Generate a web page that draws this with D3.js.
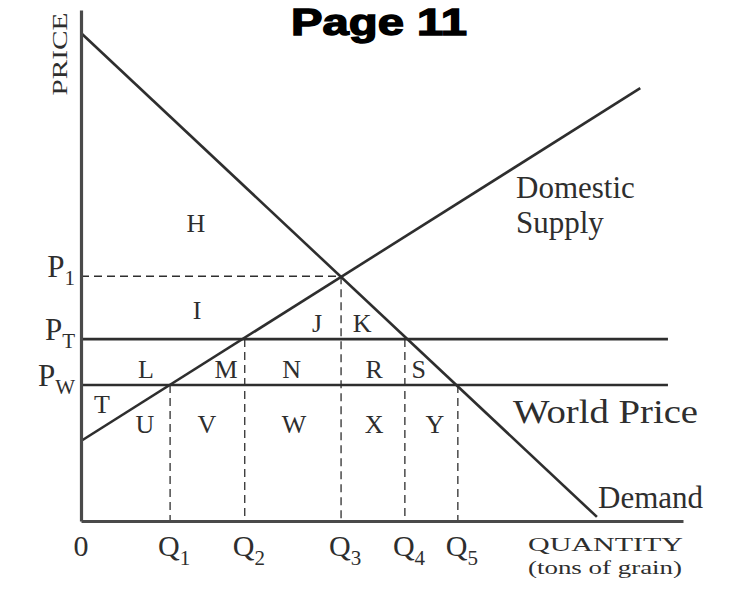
<!DOCTYPE html>
<html>
<head>
<meta charset="utf-8">
<script src="https://cdn.jsdelivr.net/npm/d3@7/dist/d3.min.js"></script>
<style>
  html, body { margin: 0; padding: 0; background: #fff; }
  svg { display: block; }
  text { font-family: "Liberation Serif", "Times New Roman", serif; fill: #2e2e2e; }
</style>
</head>
<body>
<svg id="chart" width="733" height="593"></svg>
<script>
// Tariff diagram: domestic supply and demand for grain with world price and tariff price.
const quantityLabels = ["Q", "Q", "Q", "Q", "Q"];
const quantitySubs   = ["1", "2", "3", "4", "5"];
const quantityValues = [1.48, 2.72, 4.32, 5.38, 6.26];
// price level each quantity drop-line starts from
const quantityDropFrom = [2.66, 3.56, 4.79, 3.56, 2.66];

const priceLabels = ["P", "P", "P"];
const priceSubs   = ["1", "T", "W"];
const priceValues = [4.79, 3.56, 2.66];

const demandPoints = [[0, 9.55], [8.57, 0.08]];
const supplyPoints = [[0, 1.566], [9.29, 8.47]];
const priceLineEnd = 9.75;          // quantity at which PT / PW lines stop
const p1LineEnd = 4.32;             // P1 dashed guide ends at Q3

// region letters with their anchor in (quantity, price) units
const areaLetters = ["H","I","J","K","L","M","N","R","S","T","U","V","W","X","Y"];
const areaQ = [1.91, 1.93, 3.92, 4.67, 1.08, 2.41, 3.50, 4.87, 5.61, 0.35, 1.06, 2.09, 3.54, 4.87, 5.88];
const areaP = [5.66, 3.95, 3.70, 3.70, 2.80, 2.80, 2.80, 2.80, 2.80, 2.11, 1.72, 1.72, 1.72, 1.72, 1.72];

const svg = d3.select("#chart");
const x = d3.scaleLinear().domain([0, 10]).range([81, 683]);
const y = d3.scaleLinear().domain([0, 10]).range([521, 10]);

const ink = "#2e2e2e";
const line = d3.line().x(d => x(d[0])).y(d => y(d[1]));

// title
svg.append("text")
  .attr("x", 379).attr("y", 35)
  .attr("text-anchor", "middle")
  .style("font-family", "'Liberation Sans', Arial, sans-serif")
  .style("font-weight", "bold")
  .style("font-size", "37px")
  .style("fill", "#000")
  .style("stroke", "#000").style("stroke-width", 1.4)
  .attr("textLength", 176).attr("lengthAdjust", "spacingAndGlyphs")
  .text("Page 11");

// dashed guides
const dash = svg.append("g")
  .attr("stroke", ink).attr("stroke-width", 1.3)
  .attr("stroke-dasharray", "8,5").attr("fill", "none");
dash.append("line")
  .attr("x1", x(0)).attr("x2", x(p1LineEnd))
  .attr("y1", y(priceValues[0])).attr("y2", y(priceValues[0]));
dash.selectAll("line.drop")
  .data(quantityValues)
  .join("line").attr("class", "drop")
  .attr("x1", d => x(d)).attr("x2", d => x(d))
  .attr("y1", (d, i) => y(quantityDropFrom[i])).attr("y2", y(0));

// PT and PW horizontal price lines
svg.selectAll("line.price")
  .data(priceValues.slice(1))
  .join("line").attr("class", "price")
  .attr("x1", x(0)).attr("x2", x(priceLineEnd))
  .attr("y1", d => y(d)).attr("y2", d => y(d))
  .attr("stroke", ink).attr("stroke-width", 2.6);

// supply and demand curves
svg.append("path").attr("d", line(demandPoints))
  .attr("stroke", ink).attr("stroke-width", 2.6).attr("fill", "none");
svg.append("path").attr("d", line(supplyPoints))
  .attr("stroke", ink).attr("stroke-width", 2.6).attr("fill", "none");

// axes
svg.append("g").attr("transform", `translate(0,${y(0)})`)
  .call(d3.axisBottom(x).tickValues([]).tickSizeOuter(0));
svg.append("g").attr("transform", `translate(${x(0)},0)`)
  .call(d3.axisLeft(y).tickValues([]).tickSizeOuter(0));
svg.selectAll(".domain").attr("stroke", "#4a4a4a").attr("stroke-width", 3.2);

// quantity tick labels
svg.append("text").attr("x", x(0)).attr("y", 556)
  .attr("text-anchor", "middle").style("font-size", "30px").text("0");
const qt = svg.selectAll("text.qlab")
  .data(quantityValues)
  .join("text").attr("class", "qlab")
  .attr("x", d => x(d) - 12).attr("y", 556)
  .style("font-size", "30px");
qt.append("tspan").text((d, i) => quantityLabels[i]);
qt.append("tspan").attr("dy", 9).style("font-size", "21px").text((d, i) => quantitySubs[i]);

// price tick labels
const pt = svg.selectAll("text.plab")
  .data(priceValues)
  .join("text").attr("class", "plab")
  .attr("x", 75).attr("y", d => y(d) + 1)
  .attr("text-anchor", "end")
  .style("font-size", "31px");
pt.append("tspan").text((d, i) => priceLabels[i]);
pt.append("tspan").attr("dy", 8).style("font-size", "21px").text((d, i) => priceSubs[i]);

// axis titles
svg.append("text")
  .attr("transform", `translate(67,54) rotate(-90)`)
  .attr("text-anchor", "middle")
  .style("font-size", "22px")
  .attr("textLength", 83).attr("lengthAdjust", "spacingAndGlyphs")
  .text("PRICE");
svg.append("text").attr("x", 528).attr("y", 551)
  .style("font-size", "19px")
  .attr("textLength", 155).attr("lengthAdjust", "spacingAndGlyphs")
  .text("QUANTITY");
svg.append("text").attr("x", 528).attr("y", 574)
  .style("font-size", "18px")
  .attr("textLength", 154).attr("lengthAdjust", "spacingAndGlyphs")
  .text("(tons of grain)");

// curve labels
svg.append("text").attr("x", 516).attr("y", 198).style("font-size", "31px").text("Domestic");
svg.append("text").attr("x", 516).attr("y", 233).style("font-size", "31px").text("Supply");
svg.append("text").attr("x", 513).attr("y", 423).style("font-size", "33px")
  .attr("textLength", 185).attr("lengthAdjust", "spacingAndGlyphs").text("World Price");
svg.append("text").attr("x", 598).attr("y", 508).style("font-size", "31px").text("Demand");

// region letters
svg.selectAll("text.area")
  .data(areaLetters)
  .join("text").attr("class", "area")
  .attr("x", (d, i) => x(areaQ[i])).attr("y", (d, i) => y(areaP[i]))
  .attr("text-anchor", "middle")
  .style("font-size", "26px")
  .text(d => d);
</script>
</body>
</html>
